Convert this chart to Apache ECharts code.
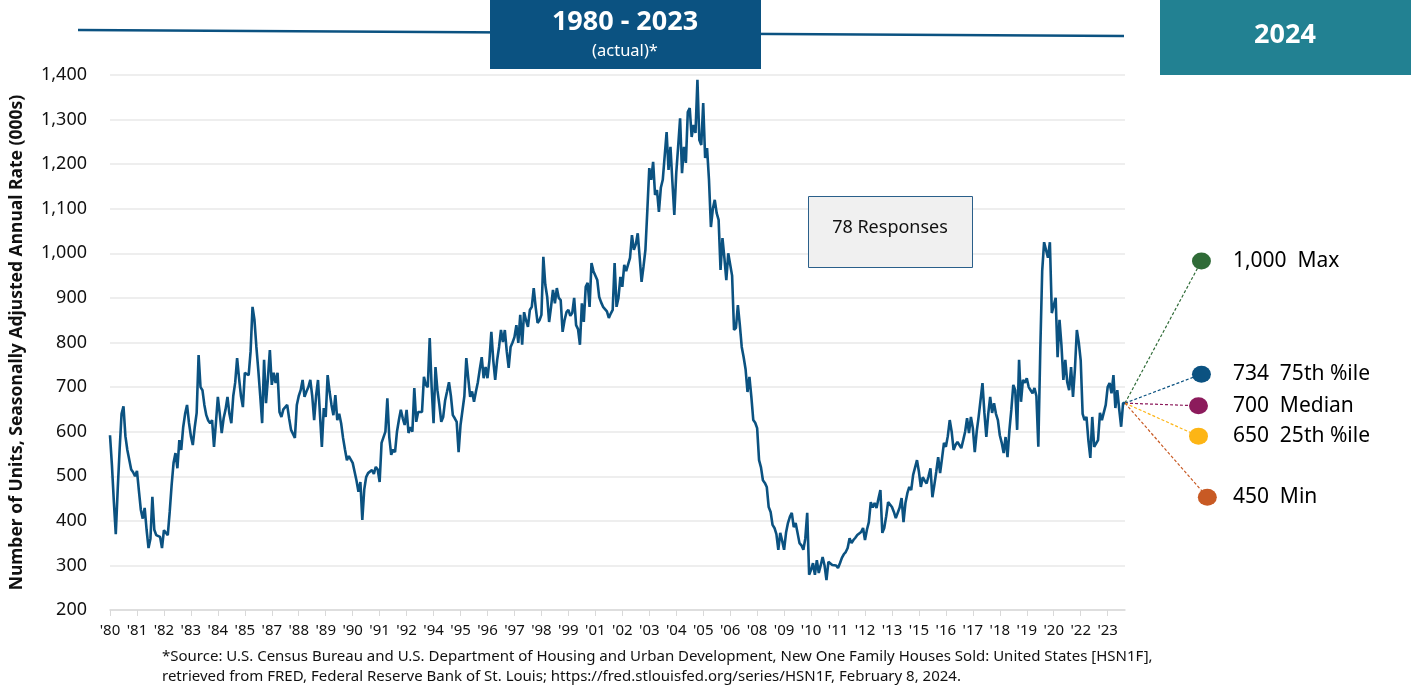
<!DOCTYPE html>
<html>
<head>
<meta charset="utf-8">
<script src="https://cdn.jsdelivr.net/npm/echarts@6/dist/echarts.min.js"></script>
<style>
  html, body { margin: 0; padding: 0; background: #fff; }
  #chart { width: 1419px; height: 690px; }
</style>
</head>
<body>
<div id="chart"></div>
<script>
// New one family houses sold, SAAR (000s), monthly Jan 1980 - Dec 2023
const startYear = 1980;
const homeSales = [
    592, 525, 443, 370, 470, 560, 640, 657, 590, 559, 555, 515, // 1980
    509, 500, 512, 468, 425, 405, 429, 380, 339, 360, 454, 380, // 1981
    368, 372, 364, 339, 379, 375, 368, 420, 480, 530, 552, 518, // 1982
    581, 559, 610, 640, 660, 620, 590, 570, 610, 642, 772, 700, // 1983
    693, 660, 637, 625, 619, 626, 566, 620, 678, 640, 597, 630, // 1984
    650, 678, 640, 619, 680, 710, 765, 720, 680, 655, 732, 728, // 1985
    727, 780, 880, 851, 790, 738, 680, 619, 761, 664, 720, 783, // 1986
    705, 732, 709, 732, 644, 633, 650, 655, 660, 630, 604, 595, // 1987
    586, 660, 680, 693, 716, 678, 690, 700, 716, 680, 626, 680, // 1988
    716, 640, 566, 653, 633, 727, 690, 660, 637, 682, 626, 640, // 1989
    619, 586, 560, 536, 545, 543, 530, 510, 490, 465, 487, 402, // 1990
    470, 498, 507, 510, 514, 505, 521, 515, 487, 575, 575, 600, // 1991
    675, 588, 548, 560, 554, 600, 626, 649, 630, 615, 649, 597, // 1992
    610, 600, 698, 622, 644, 640, 644, 723, 705, 700, 810, 700, // 1993
    619, 745, 693, 660, 622, 633, 670, 690, 711, 680, 637, 630, // 1994
    622, 554, 615, 619, 680, 765, 720, 678, 690, 667, 690, 711, // 1995
    740, 767, 720, 745, 720, 760, 824, 760, 716, 760, 790, 828, // 1996
    801, 828, 780, 743, 790, 800, 812, 839, 799, 862, 795, 868, // 1997
    850, 835, 873, 880, 922, 880, 844, 850, 862, 992, 930, 902, // 1998
    846, 880, 918, 888, 922, 900, 895, 824, 850, 868, 873, 860, // 1999
    866, 900, 839, 830, 795, 888, 846, 925, 934, 880, 978, 960, // 2000
    962, 940, 902, 890, 880, 877, 870, 855, 865, 873, 978, 880, // 2001
    900, 947, 925, 974, 960, 956, 990, 1041, 1008, 1020, 1045, 992, // 2002
    936, 970, 1008, 1097, 1191, 1165, 1205, 1131, 1142, 1093, 1147, 1165, // 2003
    1165, 1272, 1187, 1239, 1160, 1086, 1180, 1240, 1303, 1180, 1239, 1203, // 2004
    1317, 1326, 1261, 1288, 1270, 1389, 1254, 1243, 1337, 1214, 1236, 1165, // 2005
    1059, 1100, 1120, 1090, 1075, 963, 1034, 990, 940, 1000, 1000, 950, // 2006
    828, 833, 884, 840, 790, 767, 740, 689, 723, 678, 626, 620, // 2007
    608, 536, 520, 491, 485, 476, 431, 420, 391, 384, 370, 335, // 2008
    373, 355, 335, 373, 395, 409, 418, 386, 395, 391, 350, 345, // 2009
    335, 360, 418, 279, 290, 305, 279, 312, 283, 300, 319, 300, // 2010
    267, 308, 305, 301, 298, 300, 294, 305, 317, 325, 330, 339, // 2011
    361, 350, 357, 362, 368, 368, 375, 384, 357, 380, 397, 442, // 2012
    430, 440, 429, 450, 469, 373, 384, 410, 442, 440, 431, 420, // 2013
    406, 402, 430, 451, 397, 440, 462, 476, 469, 503, 507, 536, // 2014
    510, 476, 498, 490, 484, 500, 518, 453, 480, 510, 543, 507, // 2015
    540, 575, 566, 590, 626, 600, 559, 570, 577, 570, 563, 581, // 2016
    600, 630, 597, 633, 608, 554, 600, 633, 637, 709, 642, 588, // 2017
    640, 678, 642, 664, 640, 626, 592, 575, 552, 588, 543, 604, // 2018
    650, 705, 693, 604, 761, 667, 716, 710, 720, 700, 693, 686, // 2019
    698, 680, 566, 780, 960, 1025, 1023, 990, 1025, 866, 862, 900, // 2020
    767, 851, 794, 716, 761, 711, 693, 745, 678, 740, 828, 800, // 2021
    760, 640, 626, 633, 580, 541, 633, 566, 570, 581, 642, 626, // 2022
    626, 660, 700, 709, 686, 727, 653, 693, 650, 611, 664, 664  // 2023
];

// 2024 survey responses
const surveyNames = ["Max", "75th %ile", "Median", "25th %ile", "Min"];
const surveyValues = [1000, 734, 700, 650, 450];
// where the author placed each dot on the value scale (spread out so labels don't collide)
const surveyDotLevel = [983, 729, 658, 590, 453];
const surveyDotX = [26, 26, 25, 25, 28];
const surveyColors = ["#2f6b37", "#0b5281", "#8c1b5c", "#fdb515", "#c85a24"];

const yTicks = { min: 200, max: 1400, step: 100 };

const months = homeSales.map((v, i) => {
    const y = startYear + Math.floor(i / 12);
    const m = (i % 12) + 1;
    return y + "-" + (m < 10 ? "0" + m : m);
});

const FONT = "Noto Sans";
const NAVY = "#0b5281";
const lastValue = homeSales[homeSales.length - 1];

const chart = echarts.init(document.getElementById("chart"), null, { renderer: "canvas" });

chart.setOption({
    animation: false,
    backgroundColor: "#fff",
    textStyle: { fontFamily: FONT },
    grid: [
        { left: 108, right: 294, top: 75, bottom: 80 },
        { left: 1125, right: 0, top: 75, bottom: 80 },
    ],
    xAxis: [
        {
            type: "category",
            gridIndex: 0,
            data: months,
            boundaryGap: false,
            axisLine: { lineStyle: { color: "#d9d9d9", width: 1.5 } },
            axisTick: { interval: 13, length: 6, lineStyle: { color: "#d9d9d9" } },
            axisLabel: {
                interval: 13,
                margin: 13,
                fontSize: 15,
                color: "#111",
                fontFamily: FONT,
                formatter: (v) => "'" + v.slice(2, 4),
            },
            splitLine: { show: false },
        },
        { type: "value", gridIndex: 1, min: 0, max: 100, show: false },
    ],
    yAxis: [
        {
            type: "value",
            gridIndex: 0,
            min: yTicks.min,
            max: yTicks.max,
            interval: yTicks.step,
            name: "Number of Units, Seasonally Adjusted Annual Rate (000s)",
            nameLocation: "middle",
            nameGap: 84,
            nameTextStyle: { fontSize: 17.5, fontWeight: "bold", color: "#111", fontFamily: FONT },
            axisLine: { show: false },
            axisTick: { show: false },
            axisLabel: {
                margin: 23,
                fontSize: 18,
                color: "#111",
                fontFamily: FONT,
                formatter: (v) => v.toLocaleString("en-US"),
            },
            splitLine: { lineStyle: { color: "#e9e9e9", width: 1.5 } },
        },
        { type: "value", gridIndex: 1, min: yTicks.min, max: yTicks.max, show: false },
    ],
    series: [
        {
            type: "line",
            xAxisIndex: 0,
            yAxisIndex: 0,
            data: homeSales,
            showSymbol: false,
            lineStyle: { color: NAVY, width: 2.6 },
            z: 3,
        },
        {
            type: "lines",
            coordinateSystem: "cartesian2d",
            xAxisIndex: 1,
            yAxisIndex: 1,
            polyline: false,
            data: surveyDotLevel.map((lv, i) => ({
                coords: [[0, lastValue], [surveyDotX[i], lv]],
                lineStyle: { color: surveyColors[i] },
            })),
            lineStyle: { width: 1.2, type: [3, 2], opacity: 1, curveness: 0 },
            z: 2,
        },
        {
            type: "scatter",
            xAxisIndex: 1,
            yAxisIndex: 1,
            symbol: "circle",
            symbolSize: [19, 17],
            data: surveyDotLevel.map((lv, i) => ({
                value: [surveyDotX[i], lv],
                itemStyle: { color: surveyColors[i], opacity: 1 },
            })),
            z: 4,
        },
        {
            type: "scatter",
            xAxisIndex: 1,
            yAxisIndex: 1,
            symbolSize: 0,
            itemStyle: { opacity: 1 },
            data: surveyDotLevel.map((lv, i) => ({
                value: [36.7, lv],
                label: {
                    show: true,
                    position: "right",
                    distance: 0,
                    fontSize: 21,
                    color: "#000",
                    fontFamily: FONT,
                    formatter: surveyValues[i].toLocaleString("en-US") + "  " + surveyNames[i],
                },
            })),
            z: 4,
        },
    ],
    graphic: [
        {
            type: "line",
            shape: { x1: 78, y1: 30, x2: 1124, y2: 36 },
            style: { stroke: NAVY, lineWidth: 2.5 },
            z: 1,
        },
        {
            type: "rect",
            shape: { x: 490, y: 0, width: 271, height: 69 },
            style: { fill: NAVY },
            z: 5,
        },
        {
            type: "text",
            x: 625, y: 22,
            style: { text: "1980 - 2023", fill: "#fff", fontSize: 27, fontWeight: "bold", fontFamily: FONT, align: "center", verticalAlign: "middle" },
            z: 6,
        },
        {
            type: "text",
            x: 625, y: 51,
            style: { text: "(actual)*", fill: "#fff", fontSize: 16.5, fontFamily: FONT, align: "center", verticalAlign: "middle" },
            z: 6,
        },
        {
            type: "rect",
            shape: { x: 1160, y: 0, width: 251, height: 75 },
            style: { fill: "#228192" },
            z: 5,
        },
        {
            type: "text",
            x: 1285, y: 35,
            style: { text: "2024", fill: "#fff", fontSize: 27, fontWeight: "bold", fontFamily: FONT, align: "center", verticalAlign: "middle" },
            z: 6,
        },
        {
            type: "rect",
            shape: { x: 808.5, y: 196.5, width: 164, height: 71 },
            style: { fill: "#f0f0f0", stroke: "#2a5f8a", lineWidth: 1 },
            z: 5,
        },
        {
            type: "text",
            x: 890, y: 228,
            style: { text: "78 Responses", fill: "#111", fontSize: 18, fontFamily: FONT, align: "center", verticalAlign: "middle" },
            z: 6,
        },
        {
            type: "text",
            x: 162, y: 657,
            style: { text: "*Source: U.S. Census Bureau and U.S. Department of Housing and Urban Development, New One Family Houses Sold: United States [HSN1F],", fill: "#111", fontSize: 15, fontFamily: FONT, verticalAlign: "middle" },
        },
        {
            type: "text",
            x: 162, y: 677,
            style: { text: "retrieved from FRED, Federal Reserve Bank of St. Louis; https://fred.stlouisfed.org/series/HSN1F, February 8, 2024.", fill: "#111", fontSize: 15, fontFamily: FONT, verticalAlign: "middle" },
        },
    ],
});
</script>
</body>
</html>
